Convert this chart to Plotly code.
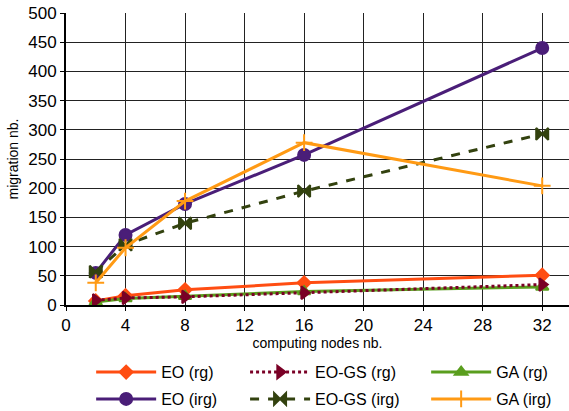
import plotly.graph_objects as go

nodes = [2, 4, 8, 16, 32]

eo_rg = [7, 16, 26, 38, 51]
eogs_rg = [8, 12, 14, 21, 35]
ga_rg = [5, 11, 15, 23, 31]
eo_irg = [55, 120, 173, 257, 440]
eogs_irg = [57, 103, 140, 195, 293]
ga_irg = [38, 98, 178, 278, 204]

x_ticks = [0, 4, 8, 12, 16, 20, 24, 28, 32]
y_ticks = [0, 50, 100, 150, 200, 250, 300, 350, 400, 450, 500]

# name, values, colour, dash, marker, size, legend column
# (GA (rg) goes before EO-GS (rg) so the dotted line sits on top of it)
series = [
    ("EO (rg)", eo_rg, "#FF4D12", "solid", "diamond", 10, "legend"),
    ("GA (rg)", ga_rg, "#5A9E1E", "solid", "triangle-up", 11, "legend3"),
    ("EO-GS (rg)", eogs_rg, "#7A0026", "dot", "triangle-right", 11, "legend2"),
    ("EO (irg)", eo_irg, "#4A1E78", "solid", "circle", 12, "legend"),
    ("EO-GS (irg)", eogs_irg, "#33420F", "dash", "bowtie", 12, "legend2"),
    ("GA (irg)", ga_irg, "#FF9A14", "solid", "cross-thin", 12, "legend3"),
]

fig = go.Figure()
for name, vals, color, dash, symbol, size, leg in series:
    fig.add_trace(go.Scatter(
        x=nodes, y=vals, name=name, mode="lines+markers",
        legend=leg, legendgroup=name,
        line=dict(color=color, width=3, dash=dash),
        marker=dict(symbol=symbol, size=size, color=color,
                    line=dict(color=color, width=2)),
    ))

legend_common = dict(
    orientation="v", y=-0.172, yanchor="top", xanchor="left",
    font=dict(size=16), itemwidth=60, tracegroupgap=3,
    bgcolor="rgba(0,0,0,0)",
)

fig.update_layout(
    width=569, height=411,
    margin=dict(l=66, r=0, t=13, b=106, autoexpand=False),
    paper_bgcolor="white", plot_bgcolor="white",
    font=dict(family="Liberation Sans, Arial, sans-serif", color="black"),
    legend=dict(x=0.05, **legend_common),
    legend2=dict(x=0.356, **legend_common),
    legend3=dict(x=0.716, **legend_common),
    xaxis=dict(
        range=[0, 33.8], tickvals=x_ticks, ticktext=[str(v) for v in x_ticks],
        showgrid=True, gridcolor="#222", gridwidth=1,
        showline=True, linecolor="black", linewidth=2,
        ticks="outside", ticklen=4, tickcolor="black",
        tickfont=dict(size=17), zeroline=False,
        title=dict(text="computing nodes nb.", font=dict(size=14), standoff=4),
    ),
    yaxis=dict(
        range=[0, 500], tickvals=y_ticks,
        showgrid=True, gridcolor="#222", gridwidth=1,
        showline=True, linecolor="black", linewidth=2,
        ticks="outside", ticklen=4, tickcolor="black",
        tickfont=dict(size=17), zeroline=False,
        title=dict(text="migration nb.", font=dict(size=14), standoff=6),
    ),
)

fig.write_html("out.html")
